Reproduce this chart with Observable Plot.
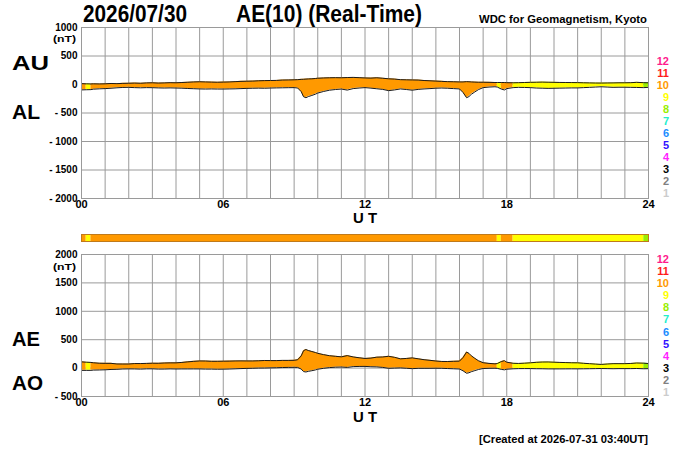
<!DOCTYPE html>
<html><head><meta charset="utf-8">
<script src="https://cdn.jsdelivr.net/npm/d3@7"></script>
<script src="https://cdn.jsdelivr.net/npm/@observablehq/plot@0.6"></script>
<style>
html,body{margin:0;padding:0;background:#fff;}
#chart{position:relative;width:700px;height:450px;overflow:hidden;font-family:"Liberation Sans",Arial,Helvetica,sans-serif;font-weight:bold;}
#chart > svg{position:absolute;left:0;}
</style></head><body><div id="chart"></div>
<script>
// UT hours of the samples
const hours = [0,0.2,0.4,0.5,0.75,1,1.25,1.5,1.75,2,
  2.25,2.5,2.75,3,3.25,3.5,3.75,4,4.25,4.5,
  4.75,5,5.25,5.5,5.75,6,6.25,6.5,6.75,7,
  7.25,7.5,7.75,8,8.25,8.5,8.75,9,9.15,9.3,
  9.4,9.5,9.6,9.75,9.9,10,10.25,10.5,10.75,11,
  11.25,11.5,11.75,12,12.25,12.5,12.75,13,13.25,13.5,
  13.75,14,14.25,14.5,14.75,15,15.25,15.5,15.75,16,
  16.15,16.3,16.4,16.5,16.65,16.8,17,17.25,17.5,17.6,
  17.77,17.9,18,18.27,18.5,18.75,19,19.25,19.5,19.75,
  20,20.25,20.5,20.75,21,21.25,21.5,21.75,22,22.25,
  22.5,22.75,23,23.25,23.5,23.8,24];
// AU index (nT)
const au = [15,12,10,12,10,12,18,15,20,22,
  25,22,28,30,25,28,32,30,35,40,
  45,48,45,42,40,42,45,50,55,58,
  60,65,68,70,72,78,80,82,85,90,
  92,95,98,100,105,110,115,118,120,118,
  122,125,120,115,112,118,110,100,95,85,
  82,80,78,70,65,60,55,50,48,45,
  45,50,48,45,42,40,40,38,35,35,
  35,35,32,30,32,35,38,40,42,40,
  38,36,35,34,33,30,28,26,25,27,
  28,30,30,32,38,32,30];
// AL index (nT)
const al = [-95,-92,-90,-82,-76,-72,-66,-58,-52,-50,
  -55,-58,-55,-56,-60,-62,-60,-62,-65,-70,
  -74,-78,-80,-78,-80,-80,-78,-76,-72,-68,
  -66,-64,-66,-62,-60,-58,-56,-55,-62,-125,
  -215,-232,-212,-192,-170,-150,-122,-100,-88,-80,
  -98,-72,-62,-55,-64,-75,-86,-108,-95,-78,
  -88,-100,-86,-78,-72,-65,-62,-66,-72,-78,
  -140,-232,-212,-172,-130,-90,-55,-45,-40,-45,
  -80,-96,-72,-55,-50,-52,-55,-62,-65,-68,
  -66,-64,-62,-60,-60,-55,-50,-45,-40,-45,
  -50,-48,-48,-50,-52,-55,-50];
// number of contributing stations per time span
const spanFrom = [0, 0.2, 0.4, 17.6, 17.77, 18.27, 23.8];
const spanTo   = [0.2, 0.4, 17.6, 17.77, 18.27, 23.8, 24];
const spanStations = [10, 9, 10, 9, 10, 9, 8];
const stationLevels = [12,11,10,9,8,7,6,5,4,3,2,1];
const stationColors = ["#ff1a8c","#ff1a1a","#ff9900","#ffff00","#99ee00","#22eecc","#1a8cff","#3311ff","#ff22ff","#000000","#808080","#cccccc"];
const xTicks = [0,6,12,18,24];
const hourGrid = d3.range(0, 25);
const topTicks = [1000,500,0,-500,-1000,-1500,-2000];
const bottomTicks = [2000,1500,1000,500,0,-500];

const colorOf = n => stationColors[stationLevels.indexOf(n)];
const fmtY = d => d < 0 ? "- " + Math.abs(d) : String(d);
const fmtX = d => String(d).padStart(2, "0");
const FONT = '"Liberation Sans", Arial, Helvetica, sans-serif';
const chart = document.getElementById("chart");

const topRows = hours.map((t, i) => ({t, hi: au[i], lo: al[i]}));
const bottomRows = hours.map((t, i) => ({t, hi: au[i] - al[i], lo: (au[i] + al[i]) / 2}));
const spans = spanFrom.map((f, i) => ({from: f, to: spanTo[i], color: colorOf(spanStations[i])}));

function panel(rows, yDomain, yTicks, height, top) {
  const segs = [];
  spans.forEach((s, i) => {
    rows.filter(r => r.t >= s.from && r.t <= s.to).forEach(r => segs.push({...r, seg: i, color: s.color}));
  });
  const svg = Plot.plot({
    width: 700, height,
    marginLeft: 81, marginRight: 52, marginTop: 27, marginBottom: 27,
    style: {fontFamily: FONT, fontWeight: "bold", background: "transparent", overflow: "visible", color: "#000"},
    x: {domain: [0, 24]},
    y: {domain: yDomain},
    color: {type: "identity"},
    marks: [
      Plot.gridX(hourGrid, {stroke: "#9a9a9a", strokeOpacity: 1}),
      Plot.gridY(yTicks, {stroke: "#9a9a9a", strokeOpacity: 1}),
      Plot.area(segs, {x1: "t", y1: "lo", y2: "hi", z: "seg", fill: "color"}),
      Plot.line(rows, {x: "t", y: "hi", stroke: "#1a1a1a", strokeWidth: 1}),
      Plot.line(rows, {x: "t", y: "lo", stroke: "#1a1a1a", strokeWidth: 1}),
      Plot.frame({stroke: "#9a9a9a"}),
      Plot.axisX(xTicks, {tickSize: 0, tickPadding: 2, tickFormat: fmtX, fontSize: 11, label: null}),
      Plot.axisY(yTicks, {tickSize: 0, tickPadding: 4, tickFormat: fmtY, fontSize: 10, label: null, style: {letterSpacing: "1.4px"}})
    ]
  });
  svg.style.top = top + "px";
  chart.appendChild(svg);
}

panel(topRows, [-2000, 1000], topTicks, 225, 0);
panel(bottomRows, [-500, 2000], bottomTicks, 196, 227);

// station-count colour bar
const bar = Plot.plot({
  width: 700, height: 7,
  marginLeft: 81, marginRight: 52, marginTop: 0, marginBottom: 0,
  style: {background: "transparent", overflow: "visible"},
  x: {domain: [0, 24], axis: null},
  color: {type: "identity"},
  marks: [
    Plot.barX(spans, {x1: "from", x2: "to", fill: "color"}),
    Plot.frame({stroke: "#c07a1a", strokeWidth: 1})
  ]
});
bar.style.top = "234px";
chart.appendChild(bar);

// text overlay
const ov = d3.select(chart).append("svg")
  .attr("width", 700).attr("height", 450)
  .style("top", "0px").style("pointer-events", "none")
  .style("font-family", FONT).style("font-weight", "bold");

function txt(s, x, y, size, opts = {}) {
  const t = ov.append("text").attr("x", x).attr("y", y).attr("font-size", size).text(s)
    .attr("fill", opts.fill || "#000");
  if (opts.anchor) t.attr("text-anchor", opts.anchor);
  if (opts.len) t.attr("textLength", opts.len).attr("lengthAdjust", "spacingAndGlyphs");
  return t;
}

txt("2026/07/30", 83, 22, 23, {len: 104});
txt("AE(10) (Real-Time)", 236, 22, 23, {len: 186});
txt("WDC for Geomagnetism, Kyoto", 479, 23, 11, {len: 168});
txt("[Created at 2026-07-31 03:40UT]", 479, 443, 11, {len: 169});

txt("AU", 12, 70, 21, {len: 37});
txt("AL", 12, 119, 21, {len: 28});
txt("AE", 12, 346, 21, {len: 28});
txt("AO", 12, 390, 21, {len: 31});

txt("(nT)", 76, 42, 9.5, {anchor: "end", len: 23});
txt("(nT)", 76, 270, 9.5, {anchor: "end", len: 23});

txt("U T", 365, 223, 15, {anchor: "middle", len: 24});
txt("U T", 365, 422, 15, {anchor: "middle", len: 24});

stationLevels.forEach((n, i) => {
  txt(String(n), 669, 65 + i * 12, 11, {anchor: "end", fill: stationColors[i]});
  txt(String(n), 669, 263 + i * 12.09, 11, {anchor: "end", fill: stationColors[i]});
});
</script></body></html>
